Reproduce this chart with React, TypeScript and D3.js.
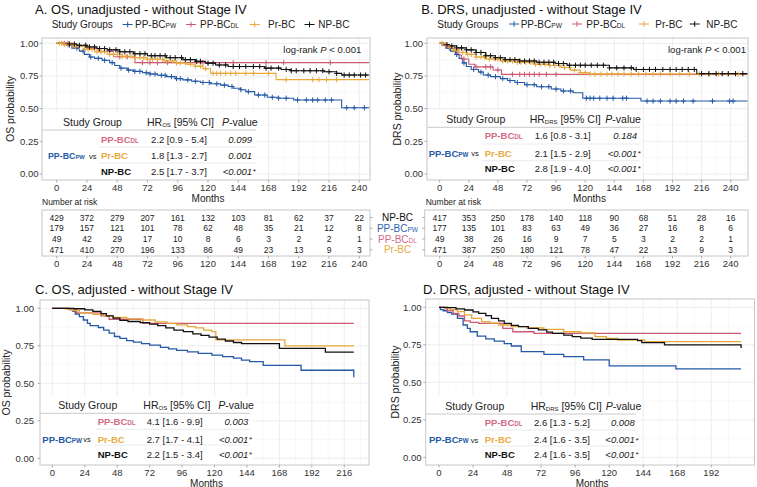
import React from 'react';
import * as d3 from 'd3';

type Pt = [number, number];

const FONT = "'Liberation Sans', Arial, Helvetica, sans-serif";

// ---------- groups ----------
const GROUPS = ['PP-BCPW', 'PP-BCDL', 'Pr-BC', 'NP-BC'];
const COLORS = ['#2459a6', '#cc5a74', '#e8a83a', '#111111'];

// ---------- ticks ----------
const MONTH_TICKS_AB = [0, 24, 48, 72, 96, 120, 144, 168, 192, 216, 240];
const MONTH_TICKS_C = [0, 24, 48, 72, 96, 120, 144, 168, 192, 216];
const MONTH_TICKS_D = [0, 24, 48, 72, 96, 120, 144, 168, 192];
const PROB_TICKS = [0, 0.25, 0.5, 0.75, 1];
const PROB_LABELS = ['0.00', '0.25', '0.50', '0.75', '1.00'];

// ---------- A. OS unadjusted curves [month, survival] ----------
const osUnadjPW: Pt[] = [[0, 1], [8, 0.985], [12, 0.963], [18, 0.94], [22, 0.915], [26, 0.895], [30, 0.885], [36, 0.87], [42, 0.852], [46, 0.83], [50, 0.81], [56, 0.795], [61, 0.785], [68, 0.775], [74, 0.765], [80, 0.755], [87, 0.745], [94, 0.73], [100, 0.72], [107, 0.71], [114, 0.7], [122, 0.69], [130, 0.68], [136, 0.67], [140, 0.656], [146, 0.645], [150, 0.63], [157, 0.604], [167, 0.587], [176, 0.58], [188, 0.566], [226, 0.507], [248, 0.507]];
const osUnadjDL: Pt[] = [[0, 1], [12, 0.98], [24, 0.959], [33, 0.938], [45, 0.897], [62, 0.852], [248, 0.852]];
const osUnadjPr: Pt[] = [[0, 1], [6, 0.99], [14, 0.975], [22, 0.955], [30, 0.935], [40, 0.915], [52, 0.9], [61, 0.89], [72, 0.878], [85, 0.865], [95, 0.85], [103, 0.84], [110, 0.825], [116, 0.805], [122, 0.77], [174, 0.722], [248, 0.722]];
const osUnadjNP: Pt[] = [[0, 1], [8, 0.995], [16, 0.985], [24, 0.972], [32, 0.96], [40, 0.95], [50, 0.935], [61, 0.92], [72, 0.905], [87, 0.89], [100, 0.875], [110, 0.862], [118, 0.848], [126, 0.834], [136, 0.822], [165, 0.81], [178, 0.8], [186, 0.79], [212, 0.782], [222, 0.77], [226, 0.757], [248, 0.757]];

const osCensPW = [10, 16, 21, 27, 33, 38, 44, 51, 57, 62, 66, 71, 74, 78, 83, 86, 91, 95, 98, 104, 110, 116, 121, 127, 133, 139, 146, 152, 160, 165, 171, 176, 182, 191, 198, 203, 207, 213, 218, 230, 236, 244];
const osCensDL = [6, 9, 42, 50, 56, 68, 74, 80, 88, 116, 140, 166, 180, 217];
const osCensPr = [2, 4, 6, 9, 12, 15, 18, 22, 25, 28, 32, 35, 38, 42, 45, 48, 52, 55, 59, 62, 66, 69, 72, 76, 80, 84, 87, 92, 95, 98, 102, 106, 110, 114, 118, 124, 127, 130, 134, 138, 142, 150, 156, 168, 182, 203, 208, 214, 222];
const osCensNP = [10, 14, 18, 23, 26, 30, 34, 38, 42, 47, 50, 54, 58, 62, 66, 70, 75, 78, 82, 86, 90, 94, 99, 102, 106, 111, 114, 120, 124, 129, 134, 140, 145, 150, 156, 161, 166, 170, 176, 182, 186, 190, 196, 201, 206, 211, 216, 222, 228, 232, 236, 241, 245];

// ---------- B. DRS unadjusted curves ----------
const drsUnadjPW: Pt[] = [[0, 1], [2, 0.985], [5, 0.963], [9, 0.94], [13, 0.915], [16, 0.885], [19, 0.85], [22, 0.822], [26, 0.8], [32, 0.78], [36, 0.757], [42, 0.745], [50, 0.73], [56, 0.715], [62, 0.7], [70, 0.683], [80, 0.668], [92, 0.65], [100, 0.635], [110, 0.622], [118, 0.58], [166, 0.558], [254, 0.558]];
const drsUnadjDL: Pt[] = [[0, 1], [5, 0.98], [8, 0.96], [12, 0.935], [15, 0.91], [18, 0.88], [24, 0.84], [29, 0.82], [44, 0.796], [51, 0.762], [254, 0.762]];
const drsUnadjPr: Pt[] = [[0, 1], [3, 0.99], [7, 0.97], [11, 0.95], [16, 0.93], [22, 0.915], [30, 0.895], [38, 0.88], [50, 0.865], [62, 0.855], [77, 0.84], [90, 0.83], [100, 0.815], [108, 0.795], [116, 0.775], [124, 0.765], [254, 0.765]];
const drsUnadjNP: Pt[] = [[0, 1], [3, 0.99], [8, 0.98], [14, 0.965], [22, 0.95], [30, 0.93], [38, 0.905], [46, 0.89], [54, 0.875], [66, 0.865], [80, 0.855], [95, 0.845], [105, 0.832], [140, 0.812], [160, 0.8], [212, 0.768], [254, 0.768]];

const drsCensPW = [8, 14, 20, 28, 34, 40, 46, 52, 58, 64, 72, 78, 84, 90, 96, 102, 108, 121, 124, 127, 132, 138, 143, 151, 154, 171, 176, 182, 190, 195, 201, 209, 225, 239, 242];
const drsCensDL = [6, 20, 30, 38, 42, 48, 60, 66, 70, 74, 78, 82, 88, 96];
const drsCensPr = [2, 5, 8, 12, 15, 19, 23, 26, 30, 34, 37, 41, 45, 48, 52, 56, 60, 64, 67, 71, 75, 79, 83, 87, 91, 95, 99, 103, 107, 111, 116, 120, 124, 128, 133, 138, 142, 147, 152, 158, 164, 170, 176, 182, 190, 198, 206, 214, 222, 230, 238, 246];
const drsCensNP = [6, 10, 14, 18, 22, 26, 30, 34, 38, 42, 46, 50, 54, 58, 62, 66, 70, 74, 78, 82, 86, 90, 94, 98, 102, 107, 112, 116, 120, 125, 130, 135, 140, 146, 152, 158, 162, 168, 173, 178, 184, 190, 195, 200, 205, 210, 216, 222, 228, 233, 238, 244, 250];

// ---------- C. OS adjusted curves ----------
const osAdjPW: Pt[] = [[0, 1], [12, 0.995], [15, 0.98], [17, 0.962], [20, 0.945], [23, 0.922], [26, 0.9], [28, 0.885], [34, 0.872], [38, 0.855], [42, 0.835], [46, 0.812], [50, 0.8], [55, 0.785], [60, 0.775], [66, 0.765], [72, 0.755], [80, 0.74], [86, 0.73], [92, 0.72], [100, 0.71], [108, 0.7], [118, 0.688], [126, 0.678], [134, 0.668], [140, 0.655], [146, 0.645], [156, 0.62], [184, 0.587], [223, 0.54]];
const osAdjDL: Pt[] = [[0, 1], [13, 0.99], [18, 0.97], [36, 0.95], [42, 0.927], [67, 0.9], [223, 0.9]];
const osAdjPr: Pt[] = [[0, 1], [10, 0.995], [15, 0.985], [20, 0.97], [30, 0.96], [38, 0.95], [45, 0.94], [55, 0.93], [66, 0.922], [76, 0.91], [85, 0.9], [92, 0.89], [100, 0.878], [106, 0.87], [112, 0.855], [118, 0.845], [121, 0.79], [172, 0.749], [223, 0.749]];
const osAdjNP: Pt[] = [[0, 1], [16, 0.997], [24, 0.99], [30, 0.98], [36, 0.965], [40, 0.95], [45, 0.935], [50, 0.92], [56, 0.912], [65, 0.905], [72, 0.895], [78, 0.885], [84, 0.87], [90, 0.855], [97, 0.845], [104, 0.83], [110, 0.82], [116, 0.808], [122, 0.795], [128, 0.782], [134, 0.772], [140, 0.765], [168, 0.733], [202, 0.708], [223, 0.708]];

// ---------- D. DRS adjusted curves ----------
const drsAdjPW: Pt[] = [[0, 1], [1, 0.985], [3, 0.977], [6, 0.965], [9, 0.955], [13, 0.926], [17, 0.882], [20, 0.86], [22, 0.837], [27, 0.808], [33, 0.79], [39, 0.775], [46, 0.758], [51, 0.742], [58, 0.704], [74, 0.686], [88, 0.671], [102, 0.649], [120, 0.609], [167, 0.589], [213, 0.589]];
const drsAdjDL: Pt[] = [[0, 1], [4, 0.99], [6, 0.977], [10, 0.96], [14, 0.942], [18, 0.91], [22, 0.9], [28, 0.893], [45, 0.86], [52, 0.837], [67, 0.826], [213, 0.826]];
const drsAdjPr: Pt[] = [[0, 1], [4, 0.995], [8, 0.985], [13, 0.971], [18, 0.95], [23, 0.926], [30, 0.904], [36, 0.895], [42, 0.882], [51, 0.871], [62, 0.862], [74, 0.853], [88, 0.837], [100, 0.83], [110, 0.804], [118, 0.792], [126, 0.782], [145, 0.771], [213, 0.771]];
const drsAdjNP: Pt[] = [[0, 1], [6, 0.998], [12, 0.99], [18, 0.982], [24, 0.97], [28, 0.96], [33, 0.945], [37, 0.926], [42, 0.91], [46, 0.893], [51, 0.88], [56, 0.871], [63, 0.86], [70, 0.849], [76, 0.835], [80, 0.826], [88, 0.815], [94, 0.804], [100, 0.795], [108, 0.786], [140, 0.778], [143, 0.764], [159, 0.749], [213, 0.728]];

// ---------- number at risk ----------
const RISK_ROWS = ['NP-BC', 'PP-BCPW', 'PP-BCDL', 'Pr-BC'];
const RISK_ROW_COLORS = ['#111111', '#2e62b0', '#d46a84', '#e9aa3e'];
const riskOsNP = [429, 372, 279, 207, 161, 132, 103, 81, 62, 37, 22];
const riskOsPW = [179, 157, 121, 101, 78, 62, 48, 35, 21, 12, 8];
const riskOsDL = [49, 42, 29, 17, 10, 8, 6, 3, 2, 2, 1];
const riskOsPr = [471, 410, 270, 196, 133, 86, 49, 23, 13, 9, 3];
const riskDrsNP = [417, 353, 250, 178, 140, 118, 90, 68, 51, 28, 16];
const riskDrsPW = [177, 135, 101, 83, 63, 49, 36, 27, 16, 8, 6];
const riskDrsDL = [49, 38, 26, 16, 9, 7, 5, 3, 2, 2, 1];
const riskDrsPr = [471, 387, 250, 180, 121, 78, 47, 22, 13, 9, 3];

// ---------- hazard ratio tables ----------
const HR_COMPARE = ['PP-BCDL', 'Pr-BC', 'NP-BC'];
const HR_COMPARE_COLORS = ['#d46a84', '#e9aa3e', '#111111'];
const hrOsUnadj = ['2.2 [0.9 - 5.4]', '1.8 [1.3 - 2.7]', '2.5 [1.7 - 3.7]'];
const pOsUnadj = ['0.099', '0.001', '<0.001*'];
const hrDrsUnadj = ['1.6 [0.8 - 3.1]', '2.1 [1.5 - 2.9]', '2.8 [1.9 - 4.0]'];
const pDrsUnadj = ['0.184', '<0.001*', '<0.001*'];
const hrOsAdj = ['4.1 [1.6 - 9.9]', '2.7 [1.7 - 4.1]', '2.2 [1.5 - 3.4]'];
const pOsAdj = ['0.003', '<0.001*', '<0.001*'];
const hrDrsAdj = ['2.6 [1.3 - 5.2]', '2.4 [1.6 - 3.5]', '2.4 [1.6 - 3.5]'];
const pDrsAdj = ['0.008', '<0.001*', '<0.001*'];

// ---------- helpers ----------
function splitName(name: string): [string, string] {
  if (name.startsWith('PP-BC') && name.length > 5) return [name.slice(0, 5), name.slice(5)];
  return [name, ''];
}

function GroupText(props: { name: string; x: number; y: number; size: number; color: string; bold?: boolean; anchor?: string }) {
  const [a, b] = splitName(props.name);
  return (
    <text x={props.x} y={props.y} fontSize={props.size} fill={props.color} fontWeight={props.bold ? 'bold' : 'normal'} textAnchor={props.anchor || 'start'}>
      {a}
      {b && <tspan fontSize={props.size * 0.66}>{b}</tspan>}
    </text>
  );
}

function stepValue(curve: Pt[], t: number) {
  let s = curve[0][1];
  for (const p of curve) if (p[0] <= t) s = p[1];
  return s;
}

type Box = { l: number; t: number; r: number; b: number };

type HRLayout = {
  rect: Box; headY: number; lineY: number; rowY: number[]; sepY: number[];
  sgX: number; hrX: number; pX: number; grpX: number; valX: number; pvalR: number;
  pwX: number; vsX: number; lineX1: number; sepX0: number; pwSize: number;
};

type PanelCfg = {
  title: string; titleX: number; titleY: number;
  box: Box; xDom: [number, number]; xRange: [number, number]; yRange: [number, number];
  ticks: number[]; yLabelRight: number; xLabelY: number; monthsY: number;
  ylabel: string; ylabelX: number;
  curves: Pt[][]; censors?: number[][]; strokeW: number;
  legend?: { x: number; y: number; sym: number[]; txt: number[] };
  logrank?: { x: number; y: number };
  hrSub: string; hrVals: string[]; pVals: string[]; hr: HRLayout;
};

function HRTable({ cfg }: { cfg: PanelCfg }) {
  const h = cfg.hr;
  const fs = 9.5;
  return (
    <g>
      <rect x={h.rect.l} y={h.rect.t} width={h.rect.r - h.rect.l} height={h.rect.b - h.rect.t} fill="#ffffff" />
      <text x={h.sgX} y={h.headY} fontSize={10.5} fill="#222">Study Group</text>
      <text x={h.hrX} y={h.headY} fontSize={10.5} fill="#222">
        HR<tspan fontSize={6} dy={1}>{cfg.hrSub}</tspan><tspan dy={-1}> [95% CI]</tspan>
      </text>
      <text x={h.pX} y={h.headY} fontSize={10.5} fill="#222">
        <tspan fontStyle="italic">P</tspan>-value
      </text>
      <line x1={cfg.box.l + 0.5} x2={h.lineX1} y1={h.lineY} y2={h.lineY} stroke="#c4c4c4" strokeWidth={0.9} />
      {h.sepY.map((sy, i) => (
        <line key={i} x1={h.sepX0} x2={h.lineX1} y1={sy} y2={sy} stroke="#e6e6e6" strokeWidth={0.8} />
      ))}
      {HR_COMPARE.map((g, i) => (
        <GroupText key={g} name={g} x={h.grpX} y={h.rowY[i]} size={fs} color={HR_COMPARE_COLORS[i]} bold />
      ))}
      {cfg.hrVals.map((v, i) => (
        <text key={i} x={h.valX} y={h.rowY[i]} fontSize={fs} fill="#222">{v}</text>
      ))}
      {cfg.pVals.map((v, i) => {
        const star = v.endsWith('*');
        const core = star ? v.slice(0, -1) : v;
        return (
          <g key={i}>
            <text x={h.pvalR} y={h.rowY[i]} fontSize={fs} fill="#222" fontStyle="italic" textAnchor="end">{core}</text>
            {star && <text x={h.pvalR + 0.5} y={h.rowY[i] - 0.5} fontSize={fs * 0.85} fill="#222" fontStyle="italic">*</text>}
          </g>
        );
      })}
      <GroupText name="PP-BCPW" x={h.pwX} y={h.rowY[1]} size={h.pwSize} color="#2459a6" bold />
      <text x={h.vsX} y={h.rowY[1] - 0.5} fontSize={7.5} fill="#222">vs</text>
    </g>
  );
}

function KMPanel({ cfg }: { cfg: PanelCfg }) {
  const { box } = cfg;
  const x = d3.scaleLinear().domain(cfg.xDom).range(cfg.xRange);
  const y = d3.scaleLinear().domain([0, 1]).range(cfg.yRange);
  const xMin = x.invert(box.l);
  const xMax = x.invert(box.r);
  const step = cfg.ticks[1] - cfg.ticks[0];
  const minorX = d3.range(cfg.ticks[0] - step / 2, xMax, step).filter((v) => v > xMin && v < xMax);
  const minorY = [0.125, 0.375, 0.625, 0.875];
  const line = d3.line<Pt>().x((d) => x(d[0])).y((d) => y(d[1])).curve(d3.curveStepAfter);
  const cx = (box.l + box.r) / 2;
  const cy = (box.t + box.b) / 2;
  return (
    <g>
      <text x={cfg.titleX} y={cfg.titleY} fontSize={13} fill="#111">{cfg.title}</text>
      <rect x={box.l} y={box.t} width={box.r - box.l} height={box.b - box.t} fill="#fff" />
      {minorX.map((v) => (
        <line key={'mx' + v} x1={x(v)} x2={x(v)} y1={box.t} y2={box.b} stroke="#f3f3f3" strokeWidth={0.6} />
      ))}
      {minorY.map((v) => (
        <line key={'my' + v} x1={box.l} x2={box.r} y1={y(v)} y2={y(v)} stroke="#f3f3f3" strokeWidth={0.6} />
      ))}
      {cfg.ticks.map((v) => (
        <line key={'gx' + v} x1={x(v)} x2={x(v)} y1={box.t} y2={box.b} stroke="#e8e8e8" strokeWidth={0.8} />
      ))}
      {PROB_TICKS.map((v) => (
        <line key={'gy' + v} x1={box.l} x2={box.r} y1={y(v)} y2={y(v)} stroke="#e8e8e8" strokeWidth={0.8} />
      ))}
      {cfg.curves.map((c, i) => (
        <path key={'c' + i} d={line(c) || ''} fill="none" stroke={COLORS[i]} strokeWidth={cfg.strokeW} />
      ))}
      {cfg.censors &&
        cfg.censors.map((cs, i) =>
          cs.map((t, j) => {
            const px = x(t);
            const py = y(stepValue(cfg.curves[i], t));
            return (
              <path key={'cs' + i + '-' + j} d={`M${px - 2.6},${py}H${px + 2.6}M${px},${py - 2.6}V${py + 2.6}`} stroke={COLORS[i]} strokeWidth={1} fill="none" />
            );
          })
        )}
      <HRTable cfg={cfg} />
      <rect x={box.l} y={box.t} width={box.r - box.l} height={box.b - box.t} fill="none" stroke="#c6c6c6" strokeWidth={1} />
      {PROB_TICKS.map((v, i) => (
        <g key={'yt' + v}>
          <line x1={box.l - 2.5} x2={box.l} y1={y(v)} y2={y(v)} stroke="#999" strokeWidth={0.8} />
          <text x={cfg.yLabelRight} y={y(v) + 3.3} fontSize={9.5} fill="#333" textAnchor="end">{PROB_LABELS[i]}</text>
        </g>
      ))}
      {cfg.ticks.map((v) => (
        <g key={'xt' + v}>
          <line x1={x(v)} x2={x(v)} y1={box.b} y2={box.b + 2.5} stroke="#999" strokeWidth={0.8} />
          <text x={x(v)} y={cfg.xLabelY} fontSize={9.5} fill="#333" textAnchor="middle">{v}</text>
        </g>
      ))}
      <text x={cx + 2} y={cfg.monthsY} fontSize={10} fill="#222" textAnchor="middle">Months</text>
      <text transform={`translate(${cfg.ylabelX},${cy}) rotate(-90)`} fontSize={10.5} fill="#222" textAnchor="middle">{cfg.ylabel}</text>
      {cfg.legend && (
        <g>
          <text x={cfg.legend.x} y={cfg.legend.y} fontSize={10} fill="#222">Study Groups</text>
          {GROUPS.map((g, i) => {
            const sx = cfg.legend!.sym[i];
            const sy = cfg.legend!.y - 3.5;
            return (
              <g key={g}>
                <path d={`M${sx - 5},${sy}H${sx + 5}M${sx},${sy - 2.8}V${sy + 2.8}`} stroke={COLORS[i]} strokeWidth={1} fill="none" />
                <GroupText name={g} x={cfg.legend!.txt[i]} y={cfg.legend!.y} size={10} color="#222" />
              </g>
            );
          })}
        </g>
      )}
      {cfg.logrank && (
        <text x={cfg.logrank.x} y={cfg.logrank.y} fontSize={9.5} fill="#222">
          log-rank <tspan fontStyle="italic">P</tspan> &lt; 0.001
        </text>
      )}
    </g>
  );
}

type RiskCfg = {
  box: Box; xDom: [number, number]; xRange: [number, number]; ticks: number[];
  rows: number[][]; rowY: number[]; tickSide: 'left' | 'right'; labelY: number;
  titleX: number; titleY: number;
};

function RiskTable({ cfg }: { cfg: RiskCfg }) {
  const x = d3.scaleLinear().domain(cfg.xDom).range(cfg.xRange);
  const { box } = cfg;
  return (
    <g>
      <text x={cfg.titleX} y={cfg.titleY} fontSize={8.5} fill="#222">Number at risk</text>
      <rect x={box.l} y={box.t} width={box.r - box.l} height={box.b - box.t} fill="#fff" stroke="#c6c6c6" strokeWidth={1} />
      {cfg.rows.map((row, ri) =>
        row.map((v, ci) => (
          <text key={ri + '-' + ci} x={x(cfg.ticks[ci])} y={cfg.rowY[ri] + 3} fontSize={8.5} fill="#222" textAnchor="middle">{v}</text>
        ))
      )}
      {cfg.rowY.map((ry, i) => {
        const x0 = cfg.tickSide === 'left' ? box.l - 2.5 : box.r;
        return <line key={'rt' + i} x1={x0} x2={x0 + 2.5} y1={ry} y2={ry} stroke="#999" strokeWidth={0.8} />;
      })}
      {cfg.ticks.map((v) => (
        <g key={'rx' + v}>
          <line x1={x(v)} x2={x(v)} y1={box.b} y2={box.b + 2.5} stroke="#999" strokeWidth={0.8} />
          <text x={x(v)} y={cfg.labelY} fontSize={9.5} fill="#333" textAnchor="middle">{v}</text>
        </g>
      ))}
    </g>
  );
}

// ---------- panel configurations (layout only) ----------
const panelA: PanelCfg = {
  title: 'A. OS, unadjusted - without Stage IV', titleX: 35, titleY: 13.5,
  box: { l: 42, t: 38, r: 370, b: 180 }, xDom: [0, 240], xRange: [56.7, 359.3], yRange: [174, 43.3],
  ticks: MONTH_TICKS_AB, yLabelRight: 38.5, xLabelY: 191, monthsY: 201.5,
  ylabel: 'OS probability', ylabelX: 14,
  curves: [osUnadjPW, osUnadjDL, osUnadjPr, osUnadjNP], censors: [osCensPW, osCensDL, osCensPr, osCensNP], strokeW: 1.1,
  legend: { x: 51.7, y: 28, sym: [127.7, 191, 254.7, 309.5], txt: [135, 200, 268, 318.3] },
  logrank: { x: 283.3, y: 53 },
  hrSub: 'OS', hrVals: hrOsUnadj, pVals: pOsUnadj,
  hr: {
    rect: { l: 42.5, t: 112, r: 257, b: 179.5 }, headY: 125.5, lineY: 130, rowY: [142.5, 159, 174.5], sepY: [147, 163],
    sgX: 63, hrX: 147, pX: 222, grpX: 101, valX: 151, pvalR: 252, pwX: 48, vsX: 89, lineX1: 256, sepX0: 98, pwSize: 8.8,
  },
};

const panelB: PanelCfg = {
  title: 'B. DRS, unadjusted - without Stage IV', titleX: 421.3, titleY: 13.5,
  box: { l: 427, t: 38, r: 748, b: 180 }, xDom: [0, 240], xRange: [439.7, 730.7], yRange: [174, 43.3],
  ticks: MONTH_TICKS_AB, yLabelRight: 423, xLabelY: 191, monthsY: 201.5,
  ylabel: 'DRS probability', ylabelX: 400.5,
  curves: [drsUnadjPW, drsUnadjDL, drsUnadjPr, drsUnadjNP], censors: [drsCensPW, drsCensDL, drsCensPr, drsCensNP], strokeW: 1.1,
  legend: { x: 437.3, y: 27.5, sym: [514, 577, 644, 694.7], txt: [520.7, 586.3, 655.3, 706.3] },
  logrank: { x: 668, y: 52.5 },
  hrSub: 'DRS', hrVals: hrDrsUnadj, pVals: pDrsUnadj,
  hr: {
    rect: { l: 427.5, t: 110, r: 642, b: 179.5 }, headY: 122.5, lineY: 127.3, rowY: [139, 156.7, 171.7], sepY: [144, 160.7],
    sgX: 446.3, hrX: 529.7, pX: 605.3, grpX: 484.7, valX: 534.7, pvalR: 637, pwX: 428.7, vsX: 471.3, lineX1: 640, sepX0: 482, pwSize: 9.5,
  },
};

const panelC: PanelCfg = {
  title: 'C. OS, adjusted - without Stage IV', titleX: 35, titleY: 293.5,
  box: { l: 40, t: 300, r: 369, b: 465 }, xDom: [0, 216], xRange: [52.3, 344.3], yRange: [458.3, 308.3],
  ticks: MONTH_TICKS_C, yLabelRight: 34, xLabelY: 475.5, monthsY: 486.5,
  ylabel: 'OS probability', ylabelX: 10,
  curves: [osAdjPW, osAdjDL, osAdjPr, osAdjNP], strokeW: 1.3,
  hrSub: 'OS', hrVals: hrOsAdj, pVals: pOsAdj,
  hr: {
    rect: { l: 40.5, t: 396, r: 253, b: 464.5 }, headY: 409, lineY: 413.3, rowY: [425, 442.7, 457.7], sepY: [429.3, 445],
    sgX: 58.3, hrX: 143.3, pX: 218.3, grpX: 97.7, valX: 146.7, pvalR: 248.3, pwX: 42.3, vsX: 83.3, lineX1: 250, sepX0: 95, pwSize: 9.5,
  },
};

const panelD: PanelCfg = {
  title: 'D. DRS, adjusted - without Stage IV', titleX: 423, titleY: 293.5,
  box: { l: 425.7, t: 299, r: 754.5, b: 465 }, xDom: [0, 192], xRange: [439, 711.3], yRange: [457.3, 307.3],
  ticks: MONTH_TICKS_D, yLabelRight: 421.5, xLabelY: 475.5, monthsY: 486.5,
  ylabel: 'DRS probability', ylabelX: 398.5,
  curves: [drsAdjPW, drsAdjDL, drsAdjPr, drsAdjNP], strokeW: 1.3,
  hrSub: 'DRS', hrVals: hrDrsAdj, pVals: pDrsAdj,
  hr: {
    rect: { l: 426.2, t: 396, r: 640, b: 464.5 }, headY: 409.5, lineY: 414, rowY: [426, 443.3, 457.7], sepY: [430, 446],
    sgX: 445.3, hrX: 530.7, pX: 605.7, grpX: 484.7, valX: 534, pvalR: 634.7, pwX: 429, vsX: 470.7, lineX1: 636, sepX0: 482, pwSize: 9.5,
  },
};

const riskA: RiskCfg = {
  box: { l: 42, t: 210, r: 370, b: 256 }, xDom: [0, 240], xRange: [56.7, 359.3], ticks: MONTH_TICKS_AB,
  rows: [riskOsNP, riskOsPW, riskOsDL, riskOsPr], rowY: [217.5, 228.3, 239, 249.8], tickSide: 'right', labelY: 266.5,
  titleX: 42, titleY: 205,
};
const riskB: RiskCfg = {
  box: { l: 424.7, t: 210, r: 748, b: 256 }, xDom: [0, 240], xRange: [439.7, 730.7], ticks: MONTH_TICKS_AB,
  rows: [riskDrsNP, riskDrsPW, riskDrsDL, riskDrsPr], rowY: [217.5, 228.3, 239, 249.8], tickSide: 'left', labelY: 266.5,
  titleX: 425.7, titleY: 205,
};

export default function App() {
  return (
    <svg width={757} height={487} viewBox="0 0 757 487" fontFamily={FONT} style={{ position: 'fixed', left: 0, top: 0, background: '#fff' }}>
      <rect width={757} height={487} fill="#fff" />
      <KMPanel cfg={panelA} />
      <KMPanel cfg={panelB} />
      <RiskTable cfg={riskA} />
      <RiskTable cfg={riskB} />
      {RISK_ROWS.map((g, i) => (
        <GroupText key={g} name={g} x={397.5} y={riskB.rowY[i] + 3.5} size={10} color={RISK_ROW_COLORS[i]} anchor="middle" />
      ))}
      <KMPanel cfg={panelC} />
      <KMPanel cfg={panelD} />
    </svg>
  );
}
